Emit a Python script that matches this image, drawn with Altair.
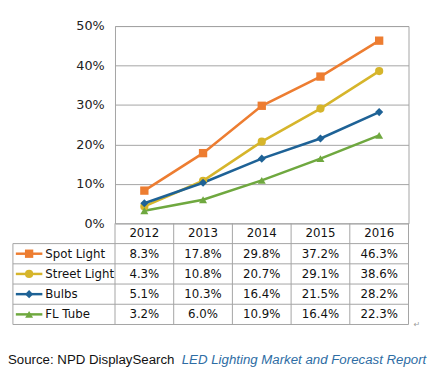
import altair as alt
import pandas as pd

years = ["2012", "2013", "2014", "2015", "2016"]
series = ["Spot Light", "Street Light", "Bulbs", "FL Tube"]
spot_light = [8.3, 17.8, 29.8, 37.2, 46.3]
street_light = [4.3, 10.8, 20.7, 29.1, 38.6]
bulbs = [5.1, 10.3, 16.4, 21.5, 28.2]
fl_tube = [3.2, 6.0, 10.9, 16.4, 22.3]
y_ticks = [0, 10, 20, 30, 40, 50]
source_plain = "Source: NPD DisplaySearch"
source_italic = "LED Lighting Market and Forecast Report"
header_row = "Year"

colors = ["#ED7D31", "#D6B52B", "#1E6296", "#6FA83F"]
shapes = ["square", "circle", "diamond", "triangle-up"]
marker_sizes = [72, 66, 66, 82]
glyph_sizes = [36, 42, 36, 45]
border = "#A3A3A3"

values = [spot_light, street_light, bulbs, fl_tube]
rows = []
for s, vals in zip(series, values):
    for y, v in zip(years, vals):
        rows.append({"series": s, "year": y, "value": v, "label": f"{v:.1f}%"})
df = pd.DataFrame(rows)
df_series = pd.DataFrame({"series": series})
df_years = pd.DataFrame({"year": years, "row": [header_row] * len(years)})
row_domain = [header_row] + series
df_rows = pd.DataFrame({"row": row_domain})

x_scale = alt.Scale(type="band", domain=years, paddingInner=0, paddingOuter=0)
x_enc = alt.X("year:O", scale=x_scale, axis=None)
y_scale = alt.Scale(domain=[0, 50], nice=False, zero=True)
row_scale = alt.Scale(type="band", domain=row_domain, range=[201, 304],
                      paddingInner=0, paddingOuter=0)
color_enc = alt.Color("series:N", scale=alt.Scale(domain=series, range=colors), legend=None)
shape_enc = alt.Shape("series:N", scale=alt.Scale(domain=series, range=shapes), legend=None)

lines = alt.Chart(df).mark_line(strokeWidth=2.6).encode(
    x=x_enc,
    y=alt.Y("value:Q", scale=y_scale, axis=alt.Axis(
        values=y_ticks, labelExpr="datum.value + '%'", grid=True,
        gridColor=border, gridWidth=1, domain=False, ticks=False,
        labelPadding=11, labelFont="DejaVu Sans", labelFontSize=13,
        labelColor="#222222", title=None)),
    color=color_enc,
)

points = alt.Chart(df).mark_point(filled=True, opacity=1).encode(
    x=x_enc,
    y=alt.Y("value:Q", scale=y_scale, axis=None),
    color=color_enc,
    shape=shape_enc,
    size=alt.Size("series:N", scale=alt.Scale(domain=series, range=marker_sizes), legend=None),
)

h_borders = alt.Chart(df_rows).mark_rule(color=border, strokeWidth=1).encode(
    y=alt.Y("row:N", scale=row_scale, axis=None, bandPosition=1),
    x=alt.value(-104), x2=alt.value(299),
)

v_borders = alt.Chart(pd.DataFrame({"year": years})).mark_rule(color=border, strokeWidth=1).encode(
    x=alt.X("year:O", scale=x_scale, axis=None, bandPosition=0),
    y=alt.value(201), y2=alt.value(304),
)

v_right = alt.Chart(pd.DataFrame({"year": years[-1:]})).mark_rule(color=border, strokeWidth=1).encode(
    x=alt.X("year:O", scale=x_scale, axis=None, bandPosition=1),
    y=alt.value(201), y2=alt.value(304),
)

v_left = alt.Chart(pd.DataFrame({"row": series[:1]})).mark_rule(color=border, strokeWidth=1).encode(
    y=alt.Y("row:N", scale=row_scale, axis=None, bandPosition=0),
    y2=alt.value(304), x=alt.value(-104),
)

header = alt.Chart(df_years).mark_text(font="DejaVu Sans", fontSize=12, color="#111111").encode(
    x=x_enc,
    y=alt.Y("row:N", scale=row_scale, axis=None),
    text="year:N",
)

cells = alt.Chart(df).mark_text(font="DejaVu Sans", fontSize=12, color="#111111").encode(
    x=x_enc,
    y=alt.Y("series:N", scale=row_scale, axis=None),
    text="label:N",
)

row_labels = alt.Chart(df_series).mark_text(font="DejaVu Sans", fontSize=12, color="#111111",
                                            align="left").encode(
    x=alt.value(-71),
    y=alt.Y("series:N", scale=row_scale, axis=None),
    text="series:N",
)

glyph_lines = alt.Chart(df_series).mark_rule(strokeWidth=2.5).encode(
    x=alt.value(-101), x2=alt.value(-74),
    y=alt.Y("series:N", scale=row_scale, axis=None),
    color=color_enc,
)

glyph_points = alt.Chart(df_series).mark_point(filled=True, opacity=1).encode(
    x=alt.value(-87.5),
    y=alt.Y("series:N", scale=row_scale, axis=None),
    color=color_enc,
    shape=shape_enc,
    size=alt.Size("series:N", scale=alt.Scale(domain=series, range=glyph_sizes), legend=None),
)

para_mark = alt.Chart(pd.DataFrame({"t": ["\u21b5"]})).mark_text(
    font="DejaVu Sans", fontSize=8, color="#999999", align="left").encode(
    x=alt.value(304), y=alt.value(305), text="t:N")

src1 = alt.Chart(pd.DataFrame({"t": [source_plain]})).mark_text(
    font="Liberation Sans", fontSize=13.5, color="#111111", align="left",
    baseline="alphabetic").encode(x=alt.value(-109), y=alt.value(344), text="t:N")

src2 = alt.Chart(pd.DataFrame({"t": [source_italic]})).mark_text(
    font="Liberation Sans", fontSize=13.5, color="#2E6DA4", fontStyle="italic",
    align="left", baseline="alphabetic").encode(x=alt.value(68), y=alt.value(344), text="t:N")

chart = alt.layer(
    lines, points, h_borders, v_borders, v_right, v_left, header, cells,
    row_labels, glyph_lines, glyph_points, para_mark, src1, src2,
).resolve_scale(y="independent").properties(
    width=299, height=201,
    padding={"left": 109, "top": 15, "right": 28, "bottom": 148},
    autosize=alt.AutoSizeParams(type="none"),
    background="white",
).configure_view(stroke=border, strokeWidth=1)

chart.save("out.html", embed_options={"renderer": "svg", "actions": False})
